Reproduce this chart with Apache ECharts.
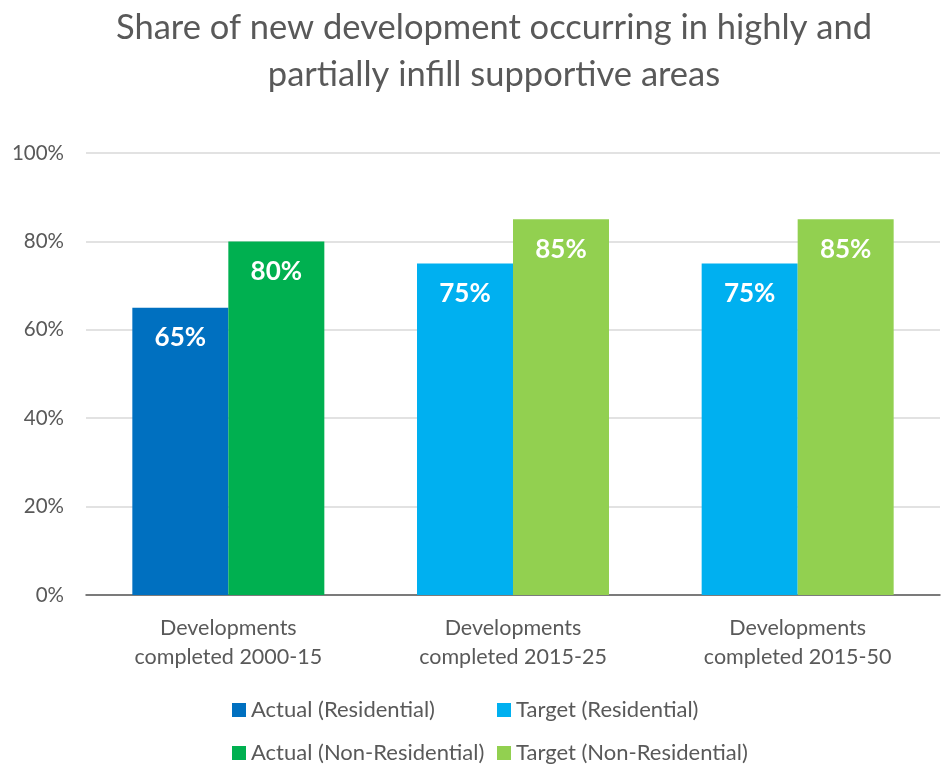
<!DOCTYPE html>
<html><head><meta charset="utf-8">
<script src="https://cdn.jsdelivr.net/npm/echarts@6/dist/echarts.min.js"></script>
<style>html,body{margin:0;padding:0;background:#fff}#c{width:941px;height:768px}</style>
</head><body><div id="c"></div>
<script>
const titleText = 'Share of new development occurring in highly and\npartially infill supportive areas';
const categories = ['Developments\ncompleted 2000-15', 'Developments\ncompleted 2015-25', 'Developments\ncompleted 2015-50'];
const actualResidential = [65, null, null];
const targetResidential = [null, 75, 75];
const actualNonResidential = [80, null, null];
const targetNonResidential = [null, 85, 85];
const yTicks = [0, 20, 40, 60, 80, 100];

const FONT = 'Lato';
const GRAY = '#595959';
const colors = {
  'Actual (Residential)': '#0070C0',
  'Target (Residential)': '#00B0F0',
  'Actual (Non-Residential)': '#00B050',
  'Target (Non-Residential)': '#92D050'
};
const label = {
  show: true, position: 'insideTop', distance: 17,
  color: '#fff', fontFamily: FONT, fontWeight: 'bold', fontSize: 26,
  formatter: p => p.value + '%'
};
function bar(name, data, stack) {
  return { name, type: 'bar', stack, data, barWidth: 96, barGap: '0%',
    itemStyle: { color: colors[name] }, label };
}
const legendText = { color: GRAY, fontFamily: FONT, fontSize: 22 };
function leg(name, left, top) {
  return { data: [name], left, top, itemWidth: 14, itemHeight: 14, itemGap: 0, icon: 'rect',
    textStyle: legendText, selectedMode: false, padding: 0 };
}
const chart = echarts.init(document.getElementById('c'), null, { renderer: 'canvas' });
chart.setOption({
  animation: false,
  title: { text: titleText, left: 489, textAlign: 'center', top: -1,
    textStyle: { color: GRAY, fontFamily: FONT, fontWeight: 'normal', fontSize: 34.5, lineHeight: 47 } },
  legend: [
    leg('Actual (Residential)', 232, 699),
    leg('Target (Residential)', 497, 699),
    leg('Actual (Non-Residential)', 232, 742),
    leg('Target (Non-Residential)', 497, 742)
  ],
  grid: { left: 86, right: 1, top: 153, bottom: 173, containLabel: false },
  xAxis: { type: 'category', data: categories,
    axisLine: { lineStyle: { color: '#595959', width: 1.5 } }, axisTick: { show: false },
    axisLabel: { color: GRAY, fontFamily: FONT, fontSize: 21.5, lineHeight: 29, margin: 19 } },
  yAxis: { type: 'value', min: yTicks[0], max: yTicks[yTicks.length - 1], interval: 20,
    axisLine: { show: false }, axisTick: { show: false },
    splitLine: { lineStyle: { color: '#d9d9d9', width: 1.5 } },
    axisLabel: { color: GRAY, fontFamily: FONT, fontSize: 20.5, margin: 22, formatter: v => v + '%' } },
  series: [
    bar('Actual (Residential)', actualResidential, 'res'),
    bar('Target (Residential)', targetResidential, 'res'),
    bar('Actual (Non-Residential)', actualNonResidential, 'non'),
    bar('Target (Non-Residential)', targetNonResidential, 'non')
  ]
});
</script></body></html>
